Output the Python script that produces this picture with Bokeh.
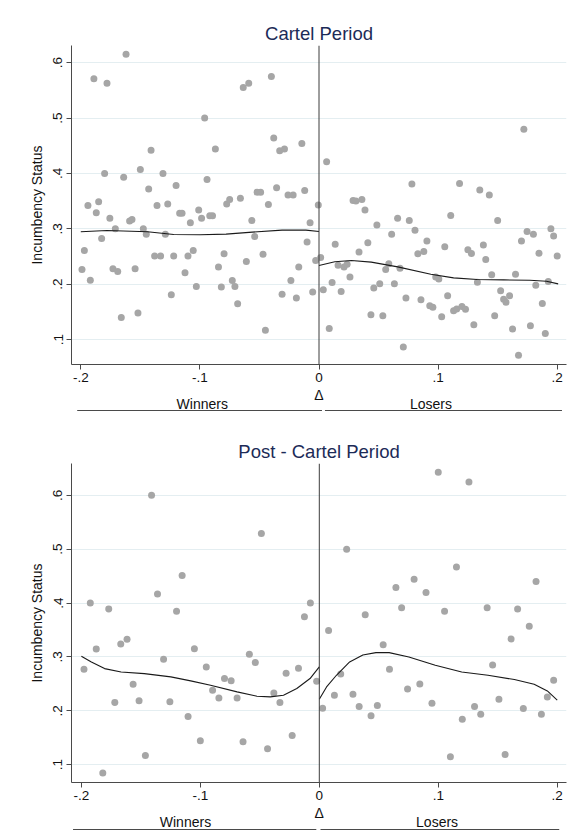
from bokeh.plotting import figure
from bokeh.models import Range1d, Span, FixedTicker
from bokeh.layouts import column
from bokeh.core.properties import value
from bokeh.embed import file_html
from bokeh.resources import INLINE

# ---------------- data ----------------
x_ticks = [-0.2, -0.1, 0, 0.1, 0.2]
x_tick_labels = ["-.2", "-.1", "0", ".1", ".2"]
y_ticks = [0.1, 0.2, 0.3, 0.4, 0.5, 0.6]
y_tick_labels = [".1", ".2", ".3", ".4", ".5", ".6"]
titles = ["Cartel Period", "Post - Cartel Period"]
y_title = "Incumbency Status"
x_title = "\u0394"
group_labels = ["Winners", "Losers"]

cartel_win_x = [-0.189, -0.162, -0.178, -0.185, -0.194, -0.180, -0.164, -0.150, -0.141, -0.143,
                -0.131, -0.136, -0.127, -0.120, -0.101, -0.096, -0.094, -0.087, -0.0775, -0.075,
                -0.066, -0.0636, -0.059, -0.052, -0.049, -0.040, -0.0425, -0.038, -0.0356, -0.033,
                -0.029, -0.026, -0.0217, -0.0144, -0.012, -0.0006, -0.187, -0.199, -0.197, -0.192,
                -0.1825, -0.1756, -0.171, -0.173, -0.169, -0.166, -0.159, -0.157, -0.1544, -0.152,
                -0.1475, -0.145, -0.138, -0.133, -0.129, -0.124, -0.122, -0.117, -0.115, -0.1125,
                -0.110, -0.108, -0.1056, -0.103, -0.0986, -0.0917, -0.0894, -0.0844, -0.082, -0.0797,
                -0.0728, -0.0706, -0.0683, -0.061, -0.0564, -0.054, -0.047, -0.045, -0.031, -0.0236,
                -0.019, -0.017, -0.010, -0.0075, -0.0053, -0.0028]
cartel_win_y = [0.571, 0.615, 0.563, 0.349, 0.342, 0.400, 0.393, 0.407, 0.442, 0.372,
                0.400, 0.342, 0.345, 0.378, 0.334, 0.500, 0.389, 0.444, 0.345, 0.353,
                0.355, 0.555, 0.563, 0.366, 0.366, 0.575, 0.344, 0.464, 0.374, 0.441,
                0.444, 0.361, 0.361, 0.454, 0.369, 0.343, 0.329, 0.2265, 0.261, 0.207,
                0.2825, 0.319, 0.300, 0.228, 0.223, 0.140, 0.314, 0.317, 0.228, 0.148,
                0.300, 0.290, 0.251, 0.251, 0.290, 0.181, 0.251, 0.328, 0.328, 0.2205,
                0.251, 0.311, 0.261, 0.196, 0.319, 0.3235, 0.3235, 0.231, 0.195, 0.255,
                0.2066, 0.196, 0.1645, 0.241, 0.315, 0.286, 0.254, 0.117, 0.182, 0.2066,
                0.175, 0.231, 0.276, 0.311, 0.186, 0.243]
cartel_lose_x = [0.0064, 0.172, 0.078, 0.118, 0.135, 0.143, 0.0286, 0.031, 0.036, 0.0386,
                 0.0014, 0.0036, 0.0086, 0.011, 0.0136, 0.016, 0.0186, 0.021, 0.0236, 0.026,
                 0.0336, 0.041, 0.0436, 0.046, 0.0486, 0.051, 0.0536, 0.056, 0.0586, 0.061,
                 0.0633, 0.066, 0.068, 0.0708, 0.073, 0.0758, 0.0806, 0.083, 0.0856, 0.088,
                 0.0906, 0.093, 0.0956, 0.098, 0.1006, 0.103, 0.1056, 0.108, 0.1106, 0.113,
                 0.1156, 0.120, 0.123, 0.125, 0.128, 0.130, 0.133, 0.138, 0.140, 0.145,
                 0.1475, 0.150, 0.1525, 0.155, 0.157, 0.160, 0.1625, 0.165, 0.1675, 0.170,
                 0.1747, 0.1775, 0.180, 0.182, 0.1847, 0.1875, 0.190, 0.1925, 0.1947, 0.197,
                 0.200]
cartel_lose_y = [0.421, 0.480, 0.381, 0.382, 0.370, 0.361, 0.351, 0.350, 0.353, 0.334,
                 0.248, 0.190, 0.120, 0.203, 0.272, 0.234, 0.187, 0.231, 0.236, 0.213,
                 0.258, 0.275, 0.145, 0.193, 0.307, 0.201, 0.143, 0.2265, 0.2367, 0.290,
                 0.201, 0.319, 0.229, 0.0867, 0.175, 0.315, 0.2976, 0.255, 0.172, 0.259,
                 0.278, 0.161, 0.1584, 0.213, 0.2096, 0.141, 0.2675, 0.179, 0.324, 0.152,
                 0.1554, 0.1596, 0.1548, 0.262, 0.2554, 0.127, 0.2036, 0.271, 0.2446, 0.2169,
                 0.143, 0.315, 0.188, 0.173, 0.1675, 0.179, 0.119, 0.218, 0.0717, 0.278,
                 0.295, 0.125, 0.290, 0.198, 0.256, 0.165, 0.111, 0.205, 0.300, 0.287,
                 0.251]
cartel_fit_win_x = [-0.2, -0.178, -0.144, -0.122, -0.1, -0.078, -0.056, -0.031, -0.011, 0.0]
cartel_fit_win_y = [0.2946, 0.297, 0.2946, 0.2898, 0.2892, 0.2904, 0.294, 0.2976, 0.2976, 0.2952]
cartel_fit_lose_x = [0.0, 0.0133, 0.0272, 0.0439, 0.0661, 0.0939, 0.113, 0.1328, 0.155, 0.177, 0.191, 0.2008]
cartel_fit_lose_y = [0.2337, 0.2404, 0.2428, 0.2398, 0.2313, 0.218, 0.2114, 0.2084, 0.2078, 0.2072, 0.2054, 0.2006]

post_win_x = [-0.141, -0.0487, -0.1153, -0.136, -0.1925, -0.177, -0.120, -0.0075, -0.0125,
              -0.1978, -0.1875, -0.182, -0.1719, -0.1669, -0.1616, -0.1565, -0.1515, -0.1462,
              -0.1309, -0.1256, -0.1103, -0.105, -0.100, -0.095, -0.0897, -0.0844, -0.0797,
              -0.0741, -0.0691, -0.0641, -0.0588, -0.0538, -0.0435, -0.0382, -0.0331, -0.0279,
              -0.0228, -0.0175, -0.0022]
post_win_y = [0.600, 0.529, 0.451, 0.4167, 0.400, 0.389, 0.3846, 0.400, 0.3747,
              0.2772, 0.3148, 0.0846, 0.2154, 0.324, 0.3327, 0.2494, 0.2185, 0.1173,
              0.2957, 0.2167, 0.1895, 0.3154, 0.1444, 0.2815, 0.2383, 0.224, 0.2599,
              0.2556, 0.224, 0.1426, 0.3049, 0.2895, 0.1296, 0.2333, 0.2154, 0.2698,
              0.1543, 0.279, 0.2549]
post_lose_x = [0.0028, 0.0078, 0.0127, 0.018, 0.0283, 0.0335, 0.0435, 0.0488, 0.0537, 0.059,
               0.0742, 0.0845, 0.0947, 0.1102, 0.1202, 0.1305, 0.1357, 0.1457, 0.151, 0.1562,
               0.1612, 0.1715, 0.1765, 0.1867, 0.1917, 0.197, 0.100, 0.1258, 0.023, 0.1153,
               0.0797, 0.0644, 0.0897, 0.1822, 0.0386, 0.0692, 0.1053, 0.1411, 0.1667]
post_lose_y = [0.205, 0.349, 0.229, 0.2685, 0.2309, 0.208, 0.1907, 0.2099, 0.3228, 0.2772,
               0.2407, 0.250, 0.2142, 0.1148, 0.1846, 0.208, 0.1938, 0.2852, 0.2216, 0.1191,
               0.3333, 0.2043, 0.3568, 0.1938, 0.2259, 0.2568, 0.6426, 0.6247, 0.500, 0.4667,
               0.4444, 0.429, 0.4198, 0.4401, 0.3784, 0.3914, 0.3846, 0.3914, 0.3889]
post_fit_win_x = [-0.2, -0.1916, -0.1805, -0.1666, -0.1471, -0.1248, -0.1081, -0.0914, -0.0691,
                  -0.0524, -0.0412, -0.0301, -0.0189, -0.0078, 0.0]
post_fit_win_y = [0.3012, 0.2907, 0.2784, 0.2722, 0.2691, 0.263, 0.2556, 0.2475, 0.2352,
                  0.2272, 0.2259, 0.229, 0.2414, 0.2599, 0.2815]
post_fit_lose_x = [0.0, 0.0061, 0.0144, 0.0255, 0.0366, 0.0476, 0.0587, 0.0753, 0.0975, 0.1197,
                   0.1418, 0.164, 0.1806, 0.1917, 0.2]
post_fit_lose_y = [0.2216, 0.2444, 0.266, 0.2907, 0.3037, 0.308, 0.308, 0.300, 0.2846, 0.2722,
                   0.266, 0.258, 0.2494, 0.237, 0.2198]

# ---------------- styling ----------------
FONT = "Liberation Sans"
TITLE_COLOR = "#1c2b57"
AXIS_COLOR = "#4a4a4a"
GRID_COLOR = "#e4eef1"
DOT_COLOR = "#a6a6a6"
W = 573


def main_panel(title, wx, wy, lx, ly, fwx, fwy, flx, fly, xr, yr, height, bl, br, bt, bb):
    p = figure(width=W, height=height, x_range=xr, y_range=yr, title=title,
               toolbar_location=None, output_backend="svg",
               min_border_left=bl, min_border_right=br, min_border_top=bt, min_border_bottom=bb)
    p.title.align = "center"
    p.title.text_font = FONT
    p.title.text_font_size = "18.5px"
    p.title.text_font_style = "normal"
    p.title.text_color = TITLE_COLOR
    p.title.standoff = 3
    p.outline_line_color = None
    p.background_fill_color = "white"
    p.border_fill_color = "white"

    p.xaxis.ticker = FixedTicker(ticks=x_ticks)
    p.xaxis.major_label_overrides = {t: l for t, l in zip(x_ticks, x_tick_labels)}
    p.yaxis.ticker = FixedTicker(ticks=y_ticks)
    p.yaxis.major_label_overrides = {t: l for t, l in zip(y_ticks, y_tick_labels)}
    p.yaxis.major_label_orientation = "vertical"
    p.yaxis.axis_label = y_title
    for ax in (p.xaxis, p.yaxis):
        ax.axis_line_color = AXIS_COLOR
        ax.axis_line_width = 1
        ax.major_tick_line_color = AXIS_COLOR
        ax.major_tick_out = 5
        ax.major_tick_in = 0
        ax.minor_tick_line_color = None
        ax.major_label_text_font = FONT
        ax.major_label_text_font_size = "13.5px"
        ax.major_label_text_color = "#111111"
        ax.axis_label_text_font = FONT
        ax.axis_label_text_font_size = "14px"
        ax.axis_label_text_font_style = "normal"
        ax.axis_label_text_color = "#111111"
    p.xaxis.major_label_standoff = 3
    p.yaxis.major_label_standoff = 4
    p.yaxis.axis_label_standoff = 6

    p.xgrid.grid_line_color = None
    p.ygrid.grid_line_color = GRID_COLOR
    p.ygrid.grid_line_width = 1

    p.add_layout(Span(location=0, dimension="height", line_color="#3c3c3c", line_width=1))

    p.scatter(wx, wy, size=7, fill_color=DOT_COLOR, line_color=None)
    p.scatter(lx, ly, size=7, fill_color=DOT_COLOR, line_color=None)
    p.line(fwx, fwy, line_color="#1a1a1a", line_width=1.1)
    p.line(flx, fly, line_color="#1a1a1a", line_width=1.1)
    return p


def strip_panel(xr, height, bl, br, delta_y, lab_y, line_y, win_x, lose_x, win_seg, lose_seg):
    s = figure(width=W, height=height, x_range=xr, y_range=Range1d(height, 0),
               toolbar_location=None, output_backend="svg",
               x_axis_location=None, y_axis_location=None,
               min_border_left=bl, min_border_right=br, min_border_top=0, min_border_bottom=0)
    s.grid.visible = False
    s.outline_line_color = None
    s.text(x=[0], y=[delta_y], text=[x_title], text_font=value(FONT), text_font_size="14px",
           text_align="center", text_baseline="middle", text_color="#111111")
    s.text(x=[win_x, lose_x], y=[lab_y, lab_y], text=group_labels, text_font=value(FONT),
           text_font_size="14px", text_align="center", text_baseline="middle", text_color="#111111")
    s.segment(x0=[win_seg[0], lose_seg[0]], y0=[line_y, line_y],
              x1=[win_seg[1], lose_seg[1]], y1=[line_y, line_y],
              line_color="#4a4a4a", line_width=1)
    return s


xr1 = Range1d(-0.2078, 0.2078)
yr1 = Range1d(0.055, 0.631)
p1 = main_panel(titles[0], cartel_win_x, cartel_win_y, cartel_lose_x, cartel_lose_y,
                cartel_fit_win_x, cartel_fit_win_y, cartel_fit_lose_x, cartel_fit_lose_y,
                xr1, yr1, 388, 71, 2, 45, 24)
s1 = strip_panel(xr1, 28, 71, 2, 6, 15.5, 22, -0.098, 0.094, (-0.203, 0.0025), (0.005, 0.204))

xr2 = Range1d(-0.2083, 0.2078)
yr2 = Range1d(0.067, 0.659)
p2 = main_panel(titles[1], post_win_x, post_win_y, post_lose_x, post_lose_y,
                post_fit_win_x, post_fit_win_y, post_fit_lose_x, post_fit_lose_y,
                xr2, yr2, 390, 67, 7, 47, 24)
s2 = strip_panel(xr2, 27, 67, 7, 6, 15, 23, -0.1125, 0.099, (-0.207, -0.0025), (0.001, 0.2017))

layout = column(p1, s1, p2, s2)
open("out.html", "w").write(file_html(layout, INLINE))
